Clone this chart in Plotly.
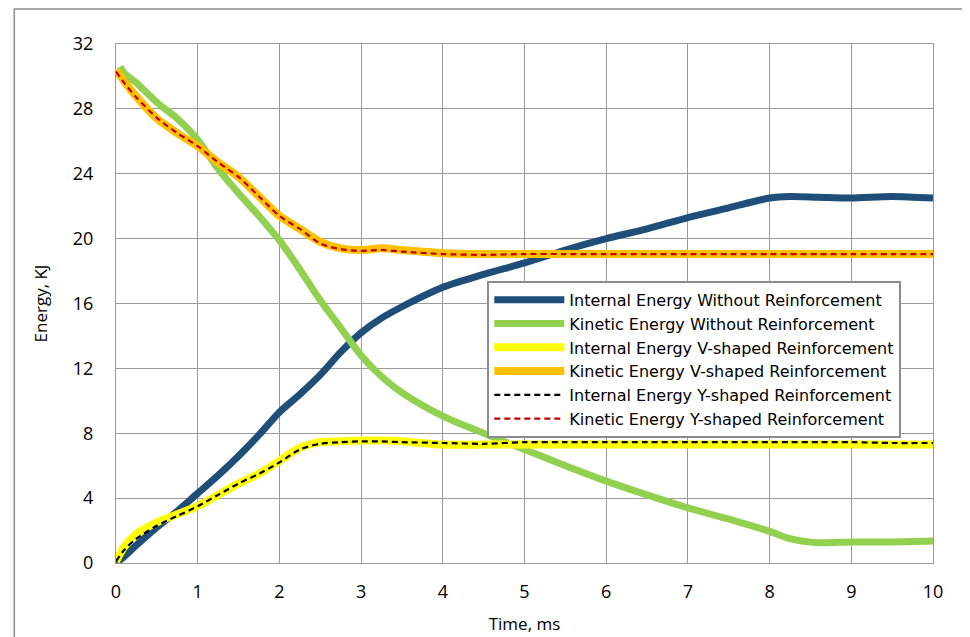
import plotly.graph_objects as go

time = [0, 0.1, 0.25, 0.5, 0.75, 1, 1.25, 1.5, 1.75, 2, 2.25, 2.5, 2.75, 3, 3.25, 3.5,
        4, 4.5, 5, 5.5, 6, 6.5, 7, 7.5, 8, 8.25, 8.6, 9, 9.5, 10]
time_green = [0.05] + time[1:]

internal_without = [0, 0.4, 1.1, 2.2, 3.2, 4.3, 5.4, 6.6, 7.9, 9.3, 10.4, 11.6, 13.0, 14.2, 15.1, 15.8,
                    17.0, 17.8, 18.5, 19.3, 20.0, 20.6, 21.3, 21.9, 22.5, 22.6, 22.55, 22.5, 22.6, 22.5]
kinetic_without = [30.6, 30.2, 29.6, 28.4, 27.4, 26.1, 24.3, 22.8, 21.4, 19.9, 18.1, 16.2, 14.5, 12.8, 11.5, 10.5,
                   9.05, 8.0, 7.0, 6.0, 5.05, 4.2, 3.4, 2.7, 1.95, 1.5, 1.25, 1.3, 1.3, 1.35]
internal_v = [0.1, 1.0, 1.8, 2.5, 3.0, 3.5, 4.2, 4.9, 5.5, 6.3, 7.1, 7.45, 7.5, 7.55, 7.55, 7.5,
              7.3, 7.3, 7.3, 7.3, 7.3, 7.3, 7.3, 7.3, 7.3, 7.3, 7.3, 7.3, 7.3, 7.3]
kinetic_v = [30.4, 29.7, 28.75, 27.4, 26.5, 25.7, 24.7, 23.8, 22.6, 21.4, 20.6, 19.8, 19.4, 19.3, 19.4, 19.3,
             19.1, 19.05, 19.05, 19.05, 19.05, 19.05, 19.05, 19.05, 19.05, 19.05, 19.05, 19.05, 19.05, 19.05]
internal_y = [0.1, 0.8, 1.5, 2.3, 2.9, 3.5, 4.2, 4.9, 5.5, 6.2, 7.0, 7.35, 7.45, 7.5, 7.5, 7.45,
              7.4, 7.35, 7.45, 7.45, 7.45, 7.45, 7.45, 7.45, 7.45, 7.45, 7.45, 7.45, 7.4, 7.4]
kinetic_y = [30.3, 29.6, 28.7, 27.45, 26.5, 25.7, 24.7, 23.8, 22.6, 21.4, 20.6, 19.7, 19.35, 19.25, 19.3, 19.2,
             19.05, 19.0, 19.05, 19.05, 19.05, 19.05, 19.05, 19.05, 19.05, 19.05, 19.05, 19.05, 19.05, 19.05]

names = ["Internal Energy Without Reinforcement", "Kinetic Energy Without Reinforcement",
         "Internal Energy V-shaped Reinforcement", "Kinetic Energy V-shaped Reinforcement",
         "Internal Energy Y-shaped Reinforcement", "Kinetic Energy Y-shaped Reinforcement"]

x_ticks = list(range(0, 11))
y_ticks = list(range(0, 33, 4))

FONT = "'Open Sans', Lato, sans-serif"
LEGEND_FONT = "'DejaVu Sans', 'Open Sans', sans-serif"

fig = go.Figure()
series = [
    (time, internal_without, "#1F4E79", 7, "solid"),
    (time_green, kinetic_without, "#92D050", 7, "solid"),
    (time, internal_v, "#FFFF00", 8, "solid"),
    (time, kinetic_v, "#FFC000", 8, "solid"),
    (time, internal_y, "#000000", 2.2, "6px,4px"),
    (time, kinetic_y, "#C00000", 2.2, "6px,4px"),
]
for (xs, ys, col, w, dash), nm in zip(series, names):
    fig.add_trace(go.Scatter(x=xs, y=ys, mode="lines", name=nm,
                             line=dict(color=col, width=w, dash=dash, shape="spline", smoothing=0.8)))

# page has an 8px body margin; figure occupies page pixels 8..970 x 8..637
OFF = 8
W, H = 970 - OFF, 637 - OFF
L = 115.7 - OFF
T = 44 - OFF
R = 970 - 932.7
B = 637 - 563.5
pw, ph = W - L - R, H - T - B

fig.update_layout(
    width=W, height=H,
    margin=dict(l=L, r=R, t=T, b=B, pad=0, autoexpand=False),
    paper_bgcolor="white", plot_bgcolor="white",
    font=dict(family=FONT, size=18, color="black"),
    showlegend=True,
    legend=dict(x=(487 - OFF - L) / pw, y=(H - B - (281 - OFF)) / ph, xanchor="left", yanchor="top",
                bgcolor="white", bordercolor="#8c8c8c", borderwidth=2,
                font=dict(family=LEGEND_FONT, size=16, color="black"),
                itemwidth=70, tracegroupgap=0),
    xaxis=dict(range=[0, 10], tickvals=x_ticks, showgrid=True, gridcolor="#9a9a9a", gridwidth=1,
               showline=True, linecolor="#9a9a9a", linewidth=1, mirror=True, zeroline=False,
               ticks="", ticklabelstandoff=12, automargin=False,
               title=dict(text="Time, ms", font=dict(size=17), standoff=16)),
    yaxis=dict(range=[0, 32], tickvals=y_ticks, showgrid=True, gridcolor="#9a9a9a", gridwidth=1,
               showline=True, linecolor="#9a9a9a", linewidth=1, mirror=True, zeroline=False,
               ticks="", ticklabelstandoff=18, automargin=False,
               title=dict(text="Energy, KJ", font=dict(size=17), standoff=20)),
    shapes=[dict(type="rect", xref="paper", yref="paper",
                 x0=(14 - OFF - L) / pw, x1=1.2, y0=-0.3, y1=(H - B - (9 - OFF)) / ph,
                 line=dict(color="#8c8c8c", width=1.5), fillcolor="rgba(0,0,0,0)", layer="below")],
)

fig.write_html("out.html")
